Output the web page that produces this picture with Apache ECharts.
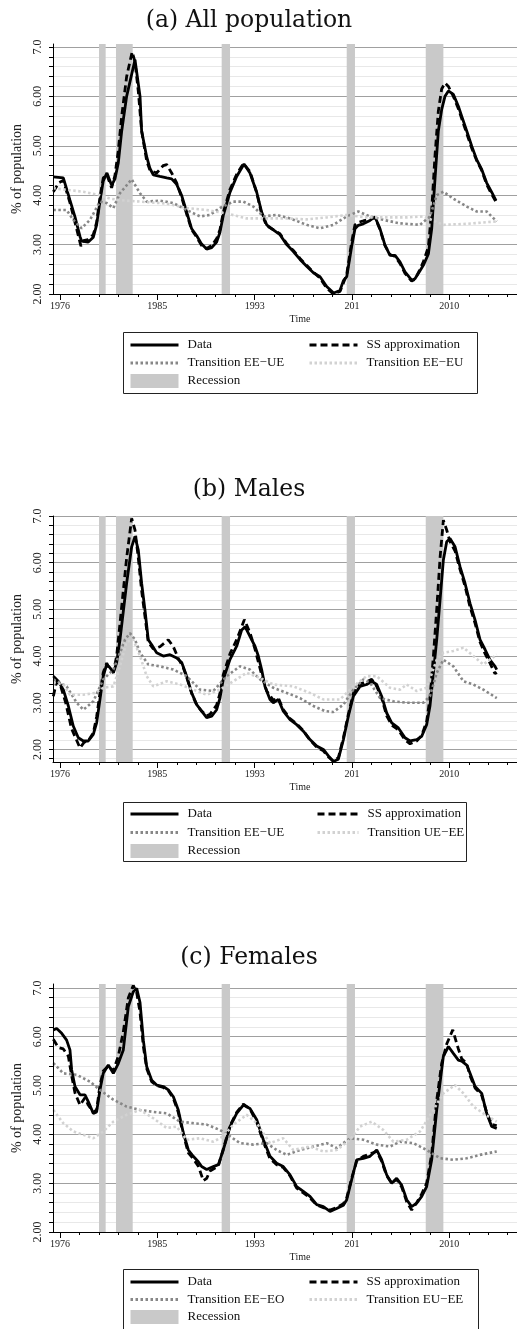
<!DOCTYPE html>
<html><head><meta charset="utf-8">
<script src="https://cdn.jsdelivr.net/npm/echarts@6/dist/echarts.min.js"></script>
<style>html,body{margin:0;padding:0;background:#fff;}#c{width:517px;height:1329px;}</style>
</head><body><div id="c"></div>
<script>
// ---------- shared axis / category data ----------
const recessions = [[1979.41,1979.99],[1980.89,1982.35],[1990.12,1990.85],[2001.04,2001.76],[2007.94,2009.48]];
const xLabelValues = [1976, 1984.5, 1993, 2001.5, 2010];
const xLabels = ['1976','1985','1993','201','2010'];
const xMinorTicks = [1976,1977.7,1979.4,1981.1,1982.8,1984.5,1986.2,1987.9,1989.6,1991.3,1993,1994.7,1996.4,1998.1,1999.8,2001.5,2003.2,2004.9,2006.6,2008.3,2010,2011.7,2013.4,2015.1];
const yLabelValues = [2,3,4,5,6,7];
const yLabels = ['2.00','3.00','4.00','5.00','6.00','7.0'];
const yMinorTicks = [1.8,2.0,2.2,2.4,2.6,2.8,3.0,3.2,3.4,3.6,3.8,4.0,4.2,4.4,4.6,4.8,5.0,5.2,5.4,5.6,5.8,6.0,6.2,6.4,6.6,6.8,7.0];

// ---------- (a) All population ----------
const aData = [[1975.42,4.37],[1976.29,4.35],[1976.87,3.9],[1977.31,3.56],[1977.75,3.16],[1977.9,3.07],[1978.47,3.05],[1978.91,3.15],[1979.2,3.4],[1979.49,3.88],[1979.78,4.29],[1980.1,4.45],[1980.51,4.2],[1980.8,4.33],[1981.09,4.65],[1981.39,5.3],[1981.82,6.0],[1982.55,6.74],[1982.99,6.0],[1983.13,5.3],[1983.57,4.78],[1983.86,4.54],[1984.15,4.41],[1984.73,4.38],[1985.32,4.35],[1985.75,4.33],[1986.19,4.22],[1986.63,3.99],[1987.06,3.66],[1987.5,3.32],[1987.94,3.18],[1988.37,3.01],[1988.81,2.91],[1989.25,2.94],[1989.68,3.05],[1989.97,3.25],[1990.26,3.59],[1990.85,4.06],[1991.43,4.38],[1992.07,4.63],[1992.59,4.45],[1993.18,4.06],[1993.61,3.66],[1994.05,3.4],[1994.63,3.3],[1995.21,3.2],[1995.8,3.0],[1996.38,2.86],[1996.96,2.7],[1997.54,2.56],[1998.13,2.43],[1998.71,2.35],[1999.29,2.15],[1999.9,2.02],[2000.45,2.07],[2000.75,2.27],[2001.04,2.35],[2001.47,2.96],[2001.76,3.32],[2002.05,3.39],[2002.49,3.42],[2003.07,3.49],[2003.51,3.56],[2003.95,3.32],[2004.38,2.99],[2004.82,2.78],[2005.26,2.78],[2005.69,2.65],[2006.13,2.45],[2006.71,2.28],[2007.0,2.31],[2007.44,2.47],[2007.73,2.58],[2008.17,2.81],[2008.46,3.32],[2008.75,4.33],[2009.04,5.3],[2009.33,5.73],[2009.62,6.0],[2009.92,6.11],[2010.35,6.04],[2010.79,5.8],[2011.08,5.6],[2011.52,5.3],[2011.96,4.99],[2012.39,4.72],[2012.83,4.52],[2013.26,4.25],[2013.7,4.06],[2014.08,3.89]];
const aSS = [[1975.42,4.07],[1975.9,4.25],[1976.29,4.3],[1976.87,3.85],[1977.31,3.45],[1977.83,2.97],[1978.04,3.08],[1978.47,3.1],[1978.91,3.2],[1979.2,3.45],[1979.49,3.95],[1979.78,4.35],[1980.08,4.42],[1980.51,4.15],[1980.8,4.4],[1981.09,4.9],[1981.39,5.6],[1981.82,6.4],[1982.3,6.9],[1982.55,6.7],[1982.84,6.1],[1983.13,5.3],[1983.57,4.7],[1983.86,4.5],[1984.44,4.45],[1985.02,4.6],[1985.32,4.62],[1985.75,4.45],[1986.19,4.25],[1986.63,3.95],[1987.06,3.62],[1987.5,3.3],[1987.94,3.15],[1988.37,2.98],[1988.81,2.92],[1989.25,2.98],[1989.68,3.12],[1989.97,3.3],[1990.26,3.65],[1990.85,4.12],[1991.43,4.42],[1992.01,4.64],[1992.59,4.48],[1993.18,4.05],[1993.61,3.62],[1994.05,3.38],[1994.63,3.3],[1995.21,3.22],[1995.8,3.02],[1996.38,2.88],[1996.96,2.72],[1997.54,2.58],[1998.13,2.44],[1998.71,2.32],[1999.29,2.12],[1999.87,2.0],[2000.45,2.05],[2000.75,2.22],[2001.04,2.4],[2001.47,3.05],[2001.76,3.4],[2002.05,3.45],[2002.49,3.48],[2003.07,3.52],[2003.51,3.55],[2003.95,3.3],[2004.38,2.98],[2004.82,2.8],[2005.26,2.76],[2005.69,2.62],[2006.13,2.42],[2006.71,2.26],[2007.0,2.3],[2007.44,2.5],[2007.73,2.65],[2008.17,2.95],[2008.46,3.7],[2008.75,4.8],[2009.04,5.7],[2009.33,6.15],[2009.62,6.27],[2009.92,6.2],[2010.35,6.0],[2010.79,5.75],[2011.08,5.55],[2011.52,5.25],[2011.96,4.95],[2012.39,4.7],[2012.83,4.5],[2013.26,4.22],[2013.7,4.02],[2014.08,3.86]];
const aEEUE = [[1975.42,3.7],[1976.58,3.7],[1977.16,3.5],[1977.89,3.33],[1978.62,3.5],[1979.49,3.87],[1980.08,3.84],[1980.66,3.74],[1981.24,4.04],[1982.26,4.32],[1982.99,4.04],[1983.57,3.87],[1984.73,3.89],[1985.9,3.84],[1987.06,3.7],[1988.23,3.57],[1989.1,3.6],[1989.97,3.74],[1991.14,3.87],[1992.01,3.87],[1992.89,3.77],[1993.76,3.57],[1994.92,3.6],[1996.09,3.53],[1997.54,3.4],[1998.71,3.33],[1999.87,3.4],[2001.04,3.57],[2002.05,3.67],[2003.07,3.57],[2004.24,3.5],[2005.69,3.43],[2007.44,3.4],[2008.31,3.57],[2008.9,4.0],[2009.48,4.07],[2010.35,3.93],[2011.52,3.77],[2012.39,3.67],[2013.26,3.67],[2014.14,3.47]];
const aEEEU = [[1975.42,4.14],[1978.04,4.07],[1979.49,4.0],[1980.37,3.93],[1981.24,3.9],[1982.99,3.87],[1985.32,3.83],[1987.06,3.74],[1988.81,3.7],[1990.56,3.63],[1992.3,3.53],[1994.05,3.53],[1995.8,3.53],[1997.54,3.51],[1999.29,3.55],[2001.04,3.6],[2002.78,3.55],[2004.53,3.55],[2006.28,3.55],[2007.73,3.57],[2009.48,3.4],[2011.52,3.42],[2014.14,3.47]];

// ---------- (b) Males ----------
const bData = [[1975.42,3.57],[1975.85,3.46],[1976.29,3.28],[1976.73,2.93],[1977.16,2.5],[1977.6,2.25],[1978.04,2.18],[1978.47,2.18],[1978.91,2.32],[1979.2,2.57],[1979.49,3.07],[1979.78,3.57],[1980.08,3.82],[1980.37,3.75],[1980.66,3.64],[1980.95,3.86],[1981.24,4.35],[1981.82,5.56],[1982.26,6.34],[1982.55,6.56],[1982.84,6.27],[1983.13,5.56],[1983.42,4.99],[1983.71,4.35],[1984.01,4.24],[1984.44,4.07],[1985.02,4.0],[1985.61,4.03],[1986.19,3.96],[1986.63,3.86],[1987.06,3.57],[1987.5,3.21],[1987.94,2.96],[1988.37,2.82],[1988.81,2.68],[1989.25,2.71],[1989.68,2.85],[1989.97,3.1],[1990.26,3.5],[1990.85,3.93],[1991.43,4.21],[1991.87,4.56],[1992.16,4.63],[1992.59,4.42],[1993.03,4.21],[1993.32,4.0],[1993.61,3.71],[1993.9,3.35],[1994.34,3.07],[1994.63,3.0],[1995.07,3.07],[1995.5,2.82],[1996.09,2.64],[1996.67,2.53],[1997.25,2.39],[1997.83,2.21],[1998.42,2.07],[1999.0,2.0],[1999.44,1.86],[1999.87,1.74],[2000.31,1.79],[2000.75,2.21],[2001.18,2.71],[2001.62,3.14],[2002.2,3.35],[2002.78,3.39],[2003.22,3.46],[2003.66,3.39],[2004.09,3.14],[2004.53,2.78],[2004.97,2.57],[2005.55,2.46],[2006.13,2.25],[2006.57,2.18],[2007.15,2.21],[2007.59,2.28],[2008.02,2.53],[2008.31,2.93],[2008.61,3.64],[2008.9,4.35],[2009.19,5.2],[2009.48,6.06],[2009.77,6.45],[2010.06,6.52],[2010.5,6.34],[2010.94,5.91],[2011.37,5.56],[2011.81,5.13],[2012.25,4.77],[2012.68,4.35],[2013.12,4.14],[2013.55,3.92],[2013.99,3.78],[2014.14,3.71]];
const bSS = [[1975.42,3.14],[1975.7,3.45],[1976.0,3.4],[1976.5,3.0],[1977.0,2.45],[1977.75,2.03],[1978.1,2.15],[1978.5,2.2],[1978.91,2.35],[1979.2,2.7],[1979.49,3.2],[1979.78,3.65],[1980.08,3.85],[1980.37,3.7],[1980.66,3.65],[1980.95,4.0],[1981.24,4.7],[1981.82,6.1],[1982.26,6.95],[1982.55,6.7],[1982.84,6.1],[1983.13,5.4],[1983.42,4.85],[1983.71,4.3],[1984.15,4.15],[1984.73,4.2],[1985.46,4.35],[1985.9,4.2],[1986.33,3.95],[1986.77,3.75],[1987.06,3.55],[1987.5,3.2],[1987.94,2.95],[1988.37,2.82],[1988.81,2.72],[1989.1,2.75],[1989.68,2.95],[1989.97,3.2],[1990.26,3.6],[1990.85,4.05],[1991.43,4.35],[1992.1,4.78],[1992.59,4.5],[1993.03,4.15],[1993.61,3.6],[1994.05,3.25],[1994.63,3.05],[1995.07,3.1],[1995.5,2.85],[1996.09,2.66],[1996.67,2.55],[1997.25,2.4],[1997.83,2.2],[1998.42,2.05],[1999.0,1.97],[1999.44,1.84],[1999.87,1.75],[2000.31,1.82],[2000.75,2.25],[2001.18,2.75],[2001.62,3.2],[2002.2,3.4],[2002.78,3.45],[2003.22,3.5],[2003.66,3.35],[2004.09,3.1],[2004.53,2.72],[2004.97,2.52],[2005.55,2.42],[2006.13,2.2],[2006.57,2.12],[2007.15,2.18],[2007.59,2.3],[2008.02,2.6],[2008.31,3.1],[2008.61,4.0],[2008.9,5.0],[2009.19,6.1],[2009.48,6.91],[2009.77,6.7],[2010.06,6.45],[2010.5,6.25],[2010.94,5.85],[2011.37,5.5],[2011.81,5.05],[2012.25,4.7],[2012.68,4.3],[2013.12,4.05],[2013.55,3.85],[2013.99,3.62],[2014.14,3.65]];
const bEEUE = [[1975.42,3.5],[1976.58,3.35],[1977.46,3.0],[1978.04,2.85],[1978.91,3.03],[1979.78,3.5],[1980.66,3.71],[1981.24,4.07],[1981.68,4.35],[1982.11,4.49],[1982.55,4.35],[1982.99,4.07],[1983.71,3.82],[1984.73,3.78],[1985.9,3.71],[1987.06,3.57],[1988.23,3.28],[1989.39,3.25],[1990.56,3.57],[1991.72,3.78],[1992.59,3.71],[1993.47,3.5],[1994.63,3.32],[1995.8,3.21],[1996.96,3.1],[1998.13,2.93],[1999.14,2.82],[1999.87,2.8],[2000.75,2.96],[2001.62,3.28],[2002.49,3.5],[2003.07,3.43],[2003.95,3.1],[2005.11,3.03],[2006.28,3.0],[2007.73,3.0],[2008.31,3.14],[2008.9,3.64],[2009.48,3.92],[2010.35,3.78],[2011.23,3.46],[2012.1,3.39],[2012.97,3.28],[2014.14,3.1]];
const bUEEE = [[1975.42,3.43],[1976.29,3.39],[1976.87,3.17],[1978.04,3.17],[1979.06,3.21],[1979.78,3.32],[1980.66,3.35],[1981.24,3.78],[1981.8,4.3],[1982.4,4.35],[1982.99,4.0],[1983.57,3.57],[1984.15,3.35],[1985.32,3.46],[1986.48,3.39],[1987.64,3.28],[1988.81,3.17],[1989.97,3.28],[1991.14,3.46],[1992.3,3.64],[1993.47,3.53],[1994.63,3.39],[1996.38,3.35],[1997.83,3.21],[1999.0,3.07],[2000.45,3.07],[2001.62,3.35],[2002.78,3.57],[2003.66,3.57],[2004.82,3.32],[2005.69,3.28],[2006.28,3.39],[2007.15,3.25],[2008.02,3.32],[2008.9,3.92],[2009.48,4.07],[2010.35,4.11],[2011.23,4.18],[2012.1,4.0],[2012.97,3.82],[2014.14,4.03]];

// ---------- (c) Females ----------
const cData = [[1975.42,6.14],[1975.71,6.17],[1976.15,6.07],[1976.58,5.93],[1976.87,5.73],[1977.02,5.32],[1977.31,4.98],[1977.75,4.81],[1978.18,4.81],[1978.47,4.67],[1978.91,4.43],[1979.2,4.46],[1979.49,4.91],[1979.78,5.25],[1980.22,5.42],[1980.66,5.25],[1981.09,5.45],[1981.53,5.73],[1981.97,6.62],[1982.4,6.92],[1982.7,6.99],[1982.99,6.7],[1983.28,5.93],[1983.57,5.39],[1984.01,5.11],[1984.44,5.01],[1985.02,4.98],[1985.46,4.91],[1985.9,4.77],[1986.33,4.5],[1986.77,4.03],[1987.21,3.68],[1987.64,3.55],[1988.08,3.44],[1988.37,3.34],[1988.81,3.28],[1989.39,3.34],[1989.83,3.38],[1990.26,3.68],[1990.85,4.16],[1991.43,4.43],[1992.01,4.6],[1992.59,4.53],[1993.18,4.3],[1993.76,3.89],[1994.34,3.55],[1994.92,3.41],[1995.5,3.34],[1996.09,3.17],[1996.67,2.93],[1997.25,2.83],[1997.83,2.73],[1998.42,2.56],[1999.0,2.52],[1999.58,2.42],[2000.16,2.48],[2000.75,2.55],[2001.04,2.66],[2001.47,3.07],[2001.91,3.48],[2002.49,3.51],[2003.07,3.55],[2003.66,3.68],[2004.09,3.48],[2004.53,3.17],[2004.97,3.0],[2005.4,3.1],[2005.84,2.96],[2006.28,2.66],[2006.71,2.52],[2007.15,2.59],[2007.59,2.73],[2008.02,2.93],[2008.46,3.48],[2008.9,4.5],[2009.33,5.32],[2009.48,5.6],[2009.92,5.8],[2010.35,5.66],[2010.79,5.52],[2011.08,5.5],[2011.52,5.42],[2011.81,5.25],[2012.25,4.98],[2012.83,4.84],[2013.26,4.43],[2013.7,4.16],[2014.14,4.12]];
const cSS = [[1975.42,5.95],[1975.85,5.78],[1976.29,5.75],[1976.73,5.6],[1977.02,5.2],[1977.31,4.85],[1977.75,4.6],[1978.18,4.75],[1978.47,4.6],[1978.91,4.45],[1979.2,4.5],[1979.49,5.0],[1979.78,5.3],[1980.22,5.4],[1980.66,5.3],[1981.09,5.6],[1981.53,6.1],[1981.97,6.8],[1982.4,7.05],[1982.7,6.9],[1982.99,6.5],[1983.28,5.8],[1983.57,5.35],[1984.01,5.08],[1984.44,5.0],[1985.02,4.96],[1985.46,4.9],[1985.9,4.74],[1986.33,4.45],[1986.77,4.0],[1987.21,3.62],[1987.64,3.5],[1988.08,3.35],[1988.52,3.05],[1988.81,3.1],[1989.1,3.25],[1989.83,3.35],[1990.26,3.7],[1990.85,4.18],[1991.43,4.45],[1992.01,4.62],[1992.59,4.52],[1993.18,4.25],[1993.76,3.85],[1994.34,3.5],[1994.92,3.38],[1995.5,3.32],[1996.09,3.15],[1996.67,2.9],[1997.25,2.8],[1997.83,2.7],[1998.42,2.55],[1999.0,2.5],[1999.58,2.45],[2000.16,2.5],[2000.75,2.58],[2001.04,2.7],[2001.47,3.1],[2001.91,3.45],[2002.49,3.55],[2003.07,3.6],[2003.66,3.65],[2004.09,3.45],[2004.53,3.15],[2004.97,3.0],[2005.4,3.08],[2005.84,2.92],[2006.28,2.62],[2006.71,2.45],[2007.15,2.6],[2007.59,2.78],[2008.02,3.0],[2008.46,3.6],[2008.9,4.7],[2009.33,5.45],[2009.77,5.85],[2010.3,6.14],[2010.79,5.75],[2011.08,5.55],[2011.52,5.45],[2011.81,5.2],[2012.25,4.95],[2012.83,4.8],[2013.26,4.45],[2013.7,4.2],[2014.14,4.18]];
const cEEEO = [[1975.42,5.46],[1976.29,5.25],[1977.46,5.22],[1978.62,5.08],[1979.49,4.91],[1980.66,4.71],[1981.82,4.57],[1982.99,4.5],[1984.15,4.46],[1985.32,4.43],[1986.48,4.26],[1987.64,4.23],[1988.81,4.2],[1989.97,4.09],[1990.85,3.96],[1991.72,3.82],[1992.89,3.79],[1994.05,3.82],[1994.92,3.68],[1995.8,3.58],[1996.96,3.68],[1998.13,3.75],[1999.29,3.82],[2000.16,3.72],[2001.33,3.92],[2002.49,3.89],[2003.66,3.79],[2004.82,3.75],[2005.69,3.85],[2006.86,3.82],[2008.02,3.68],[2009.19,3.51],[2010.35,3.48],[2011.52,3.51],[2012.68,3.58],[2014.14,3.65]];
const cEUEE = [[1975.42,4.5],[1976.29,4.23],[1977.16,4.06],[1978.04,3.99],[1978.91,3.92],[1979.78,4.06],[1980.66,4.26],[1981.82,4.4],[1982.99,4.5],[1984.15,4.33],[1985.32,4.13],[1986.19,4.16],[1987.06,3.89],[1988.23,3.92],[1989.39,3.85],[1990.26,3.96],[1991.14,4.2],[1992.3,4.4],[1993.18,4.23],[1994.34,3.82],[1995.5,3.92],[1996.38,3.68],[1997.83,3.75],[1999.0,3.65],[2000.16,3.68],[2001.33,3.89],[2002.2,4.16],[2003.22,4.26],[2004.24,4.09],[2005.11,3.85],[2006.28,3.89],[2007.44,4.06],[2008.61,4.5],[2009.48,4.84],[2010.5,5.01],[2011.23,4.84],[2012.1,4.57],[2012.97,4.43],[2014.14,4.26]];

// ---------- build ----------
const SERIF = '"Liberation Serif","Times New Roman",serif';
const X_MIN = 1975.39, X_MAX = 2015.91;
const DARK = '#878787', LIGHT = '#d2d2d2', BAND = '#c9c9c9';

const panels = [
  {k:'a', title:'(a) All population', titleY:21, top:44, height:250, min:2, max:7.06,
   data:aData, ss:aSS, t1:aEEUE, t2:aEEEU, t1n:'Transition EE\u2212UE', t2n:'Transition EE\u2212EU',
   legTop:338, legGap:4, col2Left:308, col2W:48, box:[123,332,354,61]},
  {k:'b', title:'(b) Males', titleY:490, top:516, height:246, min:1.73, max:7.0,
   data:bData, ss:bSS, t1:bEEUE, t2:bUEEE, t1n:'Transition EE\u2212UE', t2n:'Transition UE\u2212EE',
   legTop:807, legGap:4.5, col2Left:316, col2W:41, box:[123,802,343,59]},
  {k:'c', title:'(c) Females', titleY:958, top:984, height:248, min:2, max:7.08,
   data:cData, ss:cSS, t1:cEEEO, t2:cEUEE, t1n:'Transition EE\u2212EO', t2n:'Transition EU\u2212EE',
   legTop:1275, legGap:3.5, col2Left:308, col2W:48, box:[123,1269,355,62]}
];

const option = {animation:false, grid:[], xAxis:[], yAxis:[], series:[], legend:[], graphic:[]};
const fmtLegend = n => n.split('|')[0];

panels.forEach((p, i) => {
  option.grid.push({left:53, top:p.top, right:0, height:p.height});
  option.xAxis.push({
    gridIndex:i, type:'value', min:X_MIN, max:X_MAX, z:10,
    name:'Time', nameLocation:'middle', nameGap:20,
    nameTextStyle:{fontFamily:SERIF, fontSize:10, color:'#222', padding:[0,0,0,30]},
    axisLine:{show:true, onZero:false, lineStyle:{color:'#000', width:1}},
    axisTick:{show:true, length:6, customValues:xLabelValues, lineStyle:{color:'#000'}},
    axisLabel:{customValues:xLabelValues, margin:7, fontFamily:SERIF, fontSize:10, color:'#222',
      formatter: v => xLabels[xLabelValues.indexOf(v)] || ''},
    splitLine:{show:false}
  });
  option.xAxis.push({
    gridIndex:i, type:'value', position:'bottom', min:X_MIN, max:X_MAX, z:10,
    axisLine:{show:false}, axisLabel:{show:false}, splitLine:{show:false},
    axisTick:{show:true, length:3, customValues:xMinorTicks, lineStyle:{color:'#000'}}
  });
  const ticks = yMinorTicks.filter(v => v >= p.min - 1e-9 && v <= p.max + 1e-9);
  option.yAxis.push({
    gridIndex:i, type:'value', min:p.min, max:p.max, z:10,
    name:'% of population', nameLocation:'middle', nameGap:27,
    nameTextStyle:{fontFamily:SERIF, fontSize:14, color:'#222'},
    axisLine:{show:true, onZero:false, lineStyle:{color:'#000', width:1}},
    axisTick:{show:true, length:4, customValues:ticks, lineStyle:{color:'#000'}},
    axisLabel:{customValues:yLabelValues, rotate:90, margin:9, fontFamily:SERIF, fontSize:12, color:'#222',
      formatter: v => yLabels[yLabelValues.indexOf(v)] || ''},
    splitLine:{show:false}
  });
  const gx = 2*i;
  option.series.push({
    name:'Recession|'+p.k, type:'line', xAxisIndex:gx, yAxisIndex:i, data:[], symbol:'none',
    color:BAND, silent:true,
    markArea:{silent:true, z:1, itemStyle:{color:BAND, opacity:1},
      data: recessions.map(r => [{xAxis:r[0]}, {xAxis:r[1]}])},
    markLine:{silent:true, z:0, symbol:['none','none'], label:{show:false}, animation:false,
      data: ticks.map(v => ({yAxis:v, lineStyle:{type:'solid', width:1,
        color: yLabelValues.indexOf(Math.round(v*10)/10) >= 0 ? '#a0a0a0' : '#e8e8e8'}}))}
  });
  const lineSeries = (name, data, color, width, type) => ({
    name: name+'|'+p.k, type:'line', xAxisIndex:gx, yAxisIndex:i, data:data,
    symbol:'none', showSymbol:false, silent:true, z:5, color:color,
    lineStyle:{color:color, width:width, type:type}
  });
  option.series.push(lineSeries('Data', p.data, '#000', 2.8, 'solid'));
  option.series.push(lineSeries('SS approximation', p.ss, '#000', 2.8, [7,4]));
  option.series.push(lineSeries(p.t1n, p.t1, DARK, 2.6, [2.5,2.5]));
  option.series.push(lineSeries(p.t2n, p.t2, LIGHT, 2.6, [2.5,2.5]));

  const legText = {fontFamily:SERIF, fontSize:13, color:'#111', lineHeight:14, padding:[0,0,0,4]};
  const lineItem = (n, color, type) => ({name:n+'|'+p.k, itemStyle:{opacity:0},
    lineStyle:{color:color, width:3, type:type}});
  option.legend.push({
    orient:'vertical', left:129, top:p.legTop, padding:0, itemWidth:48, itemHeight:14, itemGap:p.legGap,
    selectedMode:false, formatter:fmtLegend, textStyle:legText,
    data:[lineItem('Data','#000','solid'), lineItem(p.t1n, DARK, [2.5,2.5]),
      {name:'Recession|'+p.k, icon:'rect', itemStyle:{color:BAND, opacity:1}}]
  });
  option.legend.push({
    orient:'vertical', left:p.col2Left, top:p.legTop, padding:0, itemWidth:p.col2W, itemHeight:14, itemGap:p.legGap,
    selectedMode:false, formatter:fmtLegend, textStyle:legText,
    data:[lineItem('SS approximation','#000',[7,4]), lineItem(p.t2n, LIGHT, [2.5,2.5])]
  });
  option.graphic.push({type:'rect', z:20, shape:{x:p.box[0]+0.5, y:p.box[1]+0.5, width:p.box[2], height:p.box[3]},
    style:{fill:'none', stroke:'#222', lineWidth:1}, silent:true});
  option.graphic.push({type:'text', z:20, x:249, y:p.titleY, silent:true,
    style:{text:p.title, font:'23.5px "DejaVu Serif"', fill:'#111', align:'center', verticalAlign:'middle'}});
});

const chart = echarts.init(document.getElementById('c'), null, {renderer:'canvas'});
chart.setOption(option);
</script>
</body></html>
